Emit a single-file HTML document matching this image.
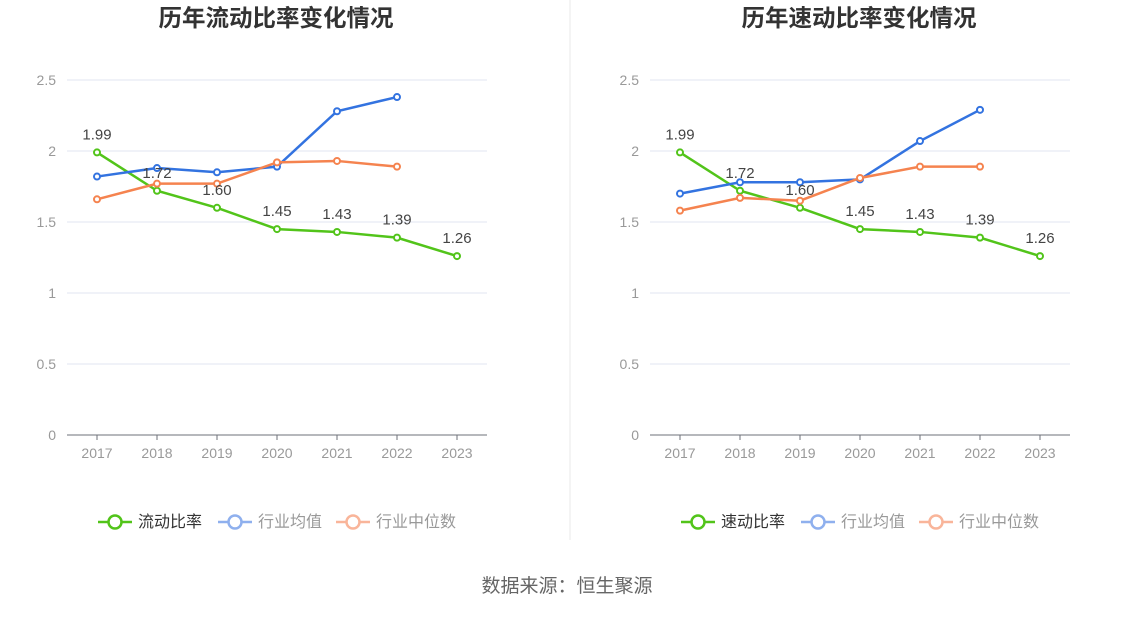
<!DOCTYPE html>
<html><head><meta charset="utf-8">
<style>
body{margin:0;background:#fff;width:1134px;height:612px;overflow:hidden;font-family:"Liberation Sans","Noto Sans CJK SC",sans-serif;}
svg text{font-family:"Liberation Sans","Noto Sans CJK SC",sans-serif;}
</style></head>
<body>
<svg id="c" width="1134" height="612">
<line x1="570" y1="0" x2="570" y2="540" stroke="#e8e8e8"/>
<text x="567" y="592" text-anchor="middle" font-size="19" fill="#666">数据来源：恒生聚源</text>
</svg>
<script>
const years=["2017","2018","2019","2020","2021","2022","2023"];
const yTicks=[0,0.5,1,1.5,2,2.5];
const leftMain=[1.99,1.72,1.60,1.45,1.43,1.39,1.26];
const leftAvg=[1.82,1.88,1.85,1.89,2.28,2.38];
const leftMed=[1.66,1.77,1.77,1.92,1.93,1.89];
const rightMain=[1.99,1.72,1.60,1.45,1.43,1.39,1.26];
const rightAvg=[1.70,1.78,1.78,1.80,2.07,2.29];
const rightMed=[1.58,1.67,1.65,1.81,1.89,1.89];
const svg=document.getElementById('c');
const NS='http://www.w3.org/2000/svg';
function mk(t,a,p){const e=document.createElementNS(NS,t);for(const k in a)e.setAttribute(k,a[k]);(p||svg).appendChild(e);return e;}
function panel(x0,title,mainName,main,avg,med,prefix){
 const g=mk('g',{});
 
 
 const left=x0+67,right=x0+487,bottom=435,top=80;
 const xs=i=>left+30+i*60;
 const ys=v=>bottom-(v/2.5)*(bottom-top);
 const t=mk('text',{x:x0+276,y:26,'text-anchor':'middle','font-size':23.5,'font-weight':'bold',fill:'#333'},g);
 t.textContent=title;
 
 
 yTicks.forEach(v=>{
  if(v>0){const l=mk('line',{x1:left,x2:right,y1:ys(v),y2:ys(v),stroke:'#e0e6f1'},g);
  
  }
  const tx=mk('text',{x:left-11,y:ys(v)+5,'text-anchor':'end','font-size':14,fill:'#999'},g);
  tx.textContent=String(v);
  
  
 });
 const ax=mk('line',{x1:left,x2:right,y1:bottom,y2:bottom,stroke:'#6e7079'},g);
 
 
 years.forEach((y,i)=>{
  mk('line',{x1:xs(i),x2:xs(i),y1:bottom,y2:bottom+5,stroke:'#6e7079'},g);
  const tx=mk('text',{x:xs(i),y:bottom+23,'text-anchor':'middle','font-size':14,fill:'#999'},g);
  tx.textContent=y;
  
  
 });
 function series(arr,color,name){
  const pts=arr.map((v,i)=>xs(i)+','+ys(v)).join(' ');
  const pl=mk('polyline',{points:pts,fill:'none',stroke:color,'stroke-width':2.5},g);
  
  
  arr.forEach((v,i)=>{
   const c=mk('circle',{cx:xs(i),cy:ys(v),r:3,fill:'#fff',stroke:color,'stroke-width':2},g);
   
   
  });
 }
 series(main,'#52c41a',prefix+'-main');
 series(avg,'#3373e0',prefix+'-avg');
 series(med,'#f5834f',prefix+'-median');
 main.forEach((v,i)=>{const tx=mk('text',{x:xs(i),y:ys(v)-13,'text-anchor':'middle','font-size':15,fill:'#444'},g);
  tx.textContent=v.toFixed(2);
  
  });
 const leg=[[mainName,'#52c41a','#333'],['行业均值','#8fb0ee','#999'],['行业中位数','#f9b59a','#999']];
 const lx=[x0+98,x0+218,x0+336];
 leg.forEach((l,i)=>{
  const lg=mk('g',{},g);
  
  
  mk('line',{x1:lx[i],x2:lx[i]+34,y1:522,y2:522,stroke:l[1],'stroke-width':2.5},lg);
  mk('circle',{cx:lx[i]+17,cy:522,r:6.5,fill:'#fff',stroke:l[1],'stroke-width':2.5},lg);
  const tx=mk('text',{x:lx[i]+40,y:527,'font-size':16,fill:l[2]},lg);
  tx.textContent=l[0];
 });
}
panel(0,'历年流动比率变化情况','流动比率',leftMain,leftAvg,leftMed,'current-ratio');
panel(583,'历年速动比率变化情况','速动比率',rightMain,rightAvg,rightMed,'quick-ratio');
</script>
</body></html>
